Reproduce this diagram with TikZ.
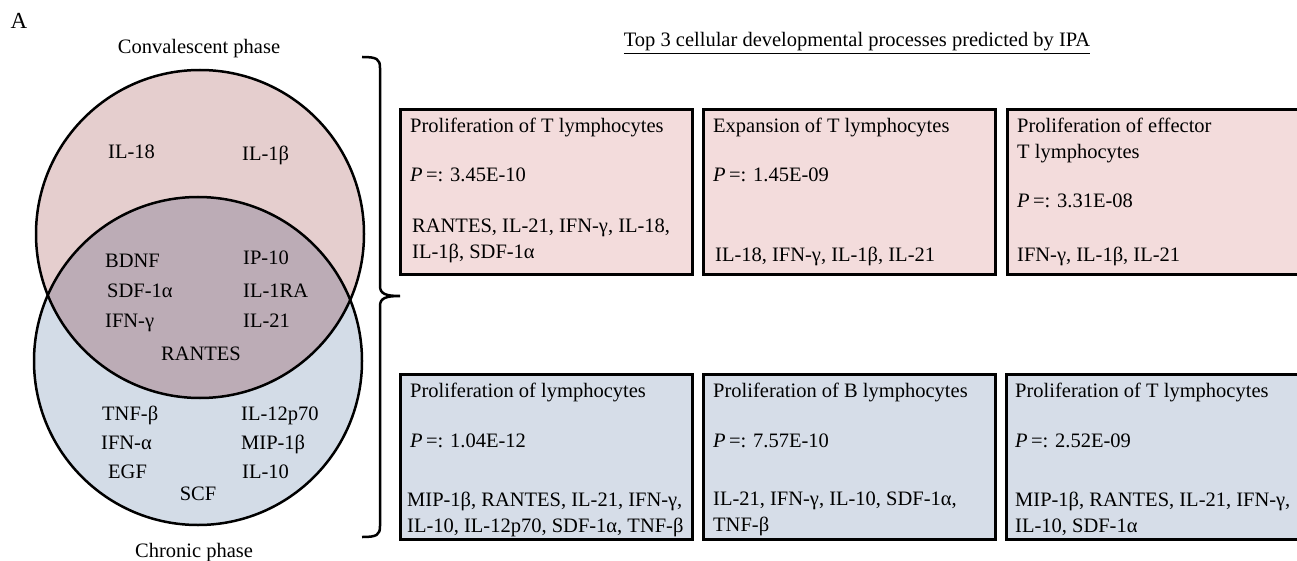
\documentclass[tikz,border=0pt]{standalone}
\usepackage{fontspec}
\setmainfont{Liberation Serif}
\usetikzlibrary{calc}
\definecolor{convpink}{RGB}{229,206,206}
\definecolor{chronblue}{RGB}{211,220,231}
\definecolor{bothmauve}{RGB}{188,172,182}
\definecolor{boxpink}{RGB}{243,220,220}
\definecolor{boxblue}{RGB}{214,221,232}

\tikzset{
    lbl/.style={inner sep=0, font=\fontsize{20.5}{26}\selectfont},
    procbox/.style={draw, line width=3, anchor=north west, minimum width=292, minimum height=165, inner sep=0},
    boxtext/.style={lbl, anchor=north west, align=left},
}

\begin{document}
\begin{tikzpicture}[x=1pt, y=-1pt]
    \path[use as bounding box, clip] (0,0) rectangle (1297,561);

    \node[lbl, anchor=base, font=\fontsize{23}{26}\selectfont] (panel) at (19,29) {A};

    % Venn diagram
    \coordinate (conv) at (200,234);
    \coordinate (chron) at (198,361);
    \fill[convpink] (conv) circle [radius=164];
    \fill[chronblue] (chron) circle [radius=164];
    \begin{scope}
        \clip (conv) circle [radius=164];
        \fill[bothmauve] (chron) circle [radius=164];
    \end{scope}
    \draw[line width=2.5] (conv) circle [radius=164];
    \draw[line width=2.5] (chron) circle [radius=164];

    \node[lbl, anchor=base] (convlbl) at (199,54) {Convalescent phase};
    \node[lbl, anchor=base] (chronlbl) at (194,557) {Chronic phase};

    \node[lbl, anchor=base west] (il18) at (108,159) {IL-18};
    \node[lbl, anchor=base west] (il1b) at (242,161) {IL-1β};
    \node[lbl, anchor=base west] (bdnf) at (105,267) {BDNF};
    \node[lbl, anchor=base west] (ip10) at (243,265) {IP-10};
    \node[lbl, anchor=base west] (sdf) at (107,297) {SDF-1α};
    \node[lbl, anchor=base west] (il1ra) at (243,297) {IL-1RA};
    \node[lbl, anchor=base west] (ifng) at (105,327) {IFN-γ};
    \node[lbl, anchor=base west] (il21) at (243,327) {IL-21};
    \node[lbl, anchor=base] (rantes) at (201,360) {RANTES};
    \node[lbl, anchor=base west] (tnfb) at (102,420) {TNF-β};
    \node[lbl, anchor=base west] (il12) at (241,420) {IL-12p70};
    \node[lbl, anchor=base west] (ifna) at (101,449) {IFN-α};
    \node[lbl, anchor=base west] (mip) at (241,449) {MIP-1β};
    \node[lbl, anchor=base west] (egf) at (108,478) {EGF};
    \node[lbl, anchor=base west] (il10) at (242,478) {IL-10};
    \node[lbl, anchor=base] (scf) at (198,500) {SCF};

    % brace
    \draw[line width=2.5] (362,57) .. controls (377,57) and (380,59) .. (380,68)
        -- (380,286) .. controls (380,294) and (386,296) .. (400,296)
        .. controls (386,296) and (380,298) .. (380,306)
        -- (380,526) .. controls (380,535) and (377,537) .. (362,537);

    \node[lbl, anchor=base] (ipa) at (857,47) {\underline{Top 3 cellular developmental processes predicted by IPA}};

    % convalescent row
    \node[procbox, fill=boxpink] (c1) at (399,108) {};
    \node[procbox, fill=boxpink] (c2) at (702,108) {};
    \node[procbox, fill=boxpink, minimum width=320] (c3) at (1006,108) {};

    \node[boxtext] (c1t) at (410,118) {Proliferation of T lymphocytes\\[23pt]\textit{P}\,=: 3.45E-10};
    \node[boxtext] (c1g) at (412,219) {RANTES, IL-21, IFN-γ, IL-18,\\IL-1β, SDF-1α};
    \node[boxtext] (c2t) at (713,118) {Expansion of T lymphocytes\\[23pt]\textit{P}\,=: 1.45E-09};
    \node[boxtext] (c2g) at (715,247) {IL-18, IFN-γ, IL-1β, IL-21};
    \node[boxtext] (c3t) at (1017,118) {Proliferation of effector\\T lymphocytes\\[23pt]\textit{P}\,=: 3.31E-08};
    \node[boxtext] (c3g) at (1017,247) {IFN-γ, IL-1β, IL-21};

    % chronic row
    \node[procbox, fill=boxblue] (h1) at (399,373) {};
    \node[procbox, fill=boxblue] (h2) at (702,373) {};
    \node[procbox, fill=boxblue, minimum width=320] (h3) at (1005,373) {};

    \node[boxtext] (h1t) at (410,383) {Proliferation of lymphocytes\\[24pt]\textit{P}\,=: 1.04E-12};
    \node[boxtext] (h1g) at (407,492) {MIP-1β, RANTES, IL-21, IFN-γ,\\IL-10, IL-12p70, SDF-1α, TNF-β};
    \node[boxtext] (h2t) at (713,383) {Proliferation of B lymphocytes\\[24pt]\textit{P}\,=: 7.57E-10};
    \node[boxtext] (h2g) at (713,492) {IL-21, IFN-γ, IL-10, SDF-1α,\\TNF-β};
    \node[boxtext] (h3t) at (1015,383) {Proliferation of T lymphocytes\\[24pt]\textit{P}\,=: 2.52E-09};
    \node[boxtext] (h3g) at (1015,492) {MIP-1β, RANTES, IL-21, IFN-γ,\\IL-10, SDF-1α};
\end{tikzpicture}
\end{document}
